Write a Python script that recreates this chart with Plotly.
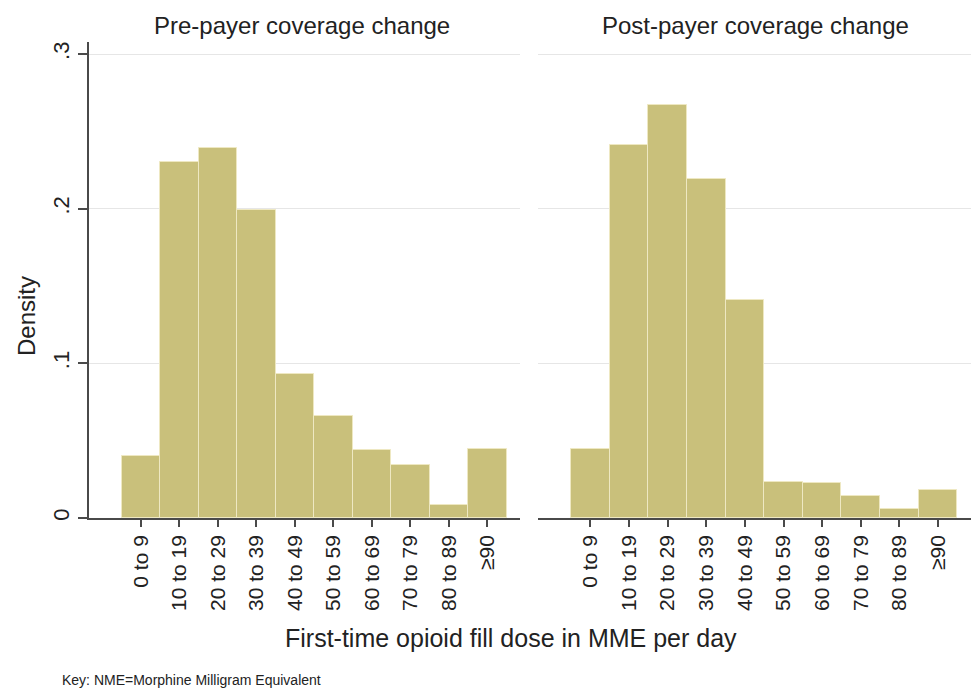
import plotly.graph_objects as go
from plotly.subplots import make_subplots

categories = ["0 to 9", "10 to 19", "20 to 29", "30 to 39", "40 to 49",
              "50 to 59", "60 to 69", "70 to 79", "80 to 89", "≥90"]
pre_density = [0.0404, 0.230, 0.239, 0.199, 0.093, 0.066, 0.044, 0.034, 0.0087, 0.0447]
post_density = [0.0447, 0.241, 0.267, 0.219, 0.141, 0.0236, 0.0225, 0.0145, 0.0055, 0.0184]
panel_titles = ["Pre-payer coverage change", "Post-payer coverage change"]
y_ticks = [0, 0.1, 0.2, 0.3]
y_ticktext = ["0", ".1", ".2", ".3"]

FONT = "Arial, Liberation Sans, sans-serif"
BAR = "#C9C07B"
EDGE = "#EEE8C2"
AX = "#4a4a4a"
GRID = "#E6E6E6"

fig = make_subplots(rows=1, cols=2, shared_yaxes=False, horizontal_spacing=0.02)
xpos = list(range(len(categories)))
for i, vals in enumerate([pre_density, post_density]):
    fig.add_trace(go.Bar(x=xpos, y=vals, width=1.0,
                         marker=dict(color=BAR, line=dict(color=EDGE, width=1)),
                         showlegend=False, hoverinfo="y"), row=1, col=i + 1)

W, H = 975, 689
L, R, T, B = 89, 4, 42, 171
pw = W - L - R
ph = H - T - B

fig.update_layout(
    width=W, height=H, margin=dict(l=L, r=R, t=T, b=B),
    paper_bgcolor="white", plot_bgcolor="white",
    font=dict(family=FONT, color="#222222"),
    bargap=0,
)
xr = [-1.35, 9.85]
fig.update_xaxes(range=xr, tickmode="array", tickvals=xpos, ticktext=categories,
                 tickangle=-90, ticks="outside", ticklen=7, tickwidth=1.5, tickcolor=AX,
                 showline=True, linecolor=AX, linewidth=1.5, showgrid=False, zeroline=False,
                 tickfont=dict(size=21, family=FONT, color="#222222"))
fig.update_layout(xaxis=dict(domain=[0, (520 - L) / pw]),
                  xaxis2=dict(domain=[(538 - L) / pw, 1]))
ytop = 0.3 * (518 - 42) / (518 - 54)
fig.update_yaxes(range=[0, ytop], tickmode="array", tickvals=y_ticks,
                 showgrid=True, gridcolor=GRID, gridwidth=1, zeroline=False)
fig.update_layout(
    yaxis=dict(ticktext=y_ticktext, tickangle=-90, ticks="outside", ticklen=9,
               tickwidth=1.5, tickcolor=AX, showline=True, linecolor=AX, linewidth=1.5,
               tickfont=dict(size=22, family=FONT, color="#222222")),
    yaxis2=dict(showticklabels=False, showline=False, ticks=""),
)

def px_x(px):
    return (px - L) / pw

def px_y(py):
    return (H - B - py) / ph

annos = [
    dict(text=panel_titles[0], x=px_x(302), y=px_y(26), size=24, xanchor="center"),
    dict(text=panel_titles[1], x=px_x(755), y=px_y(26), size=24, xanchor="center"),
    dict(text="First-time opioid fill dose in MME per day", x=px_x(511), y=px_y(638),
         size=25, xanchor="center"),
    dict(text="Key: NME=Morphine Milligram Equivalent", x=px_x(60), y=px_y(680),
         size=14, xanchor="left"),
]
for a in annos:
    fig.add_annotation(text=a["text"], x=a["x"], y=a["y"], xref="paper", yref="paper",
                       xanchor=a["xanchor"], yanchor="middle", showarrow=False,
                       font=dict(size=a["size"], family=FONT, color="#222222"))
fig.add_annotation(text="Density", x=px_x(26), y=px_y(316), xref="paper", yref="paper",
                   xanchor="center", yanchor="middle", showarrow=False, textangle=-90,
                   font=dict(size=24, family=FONT, color="#222222"))

fig.write_html("out.html")
